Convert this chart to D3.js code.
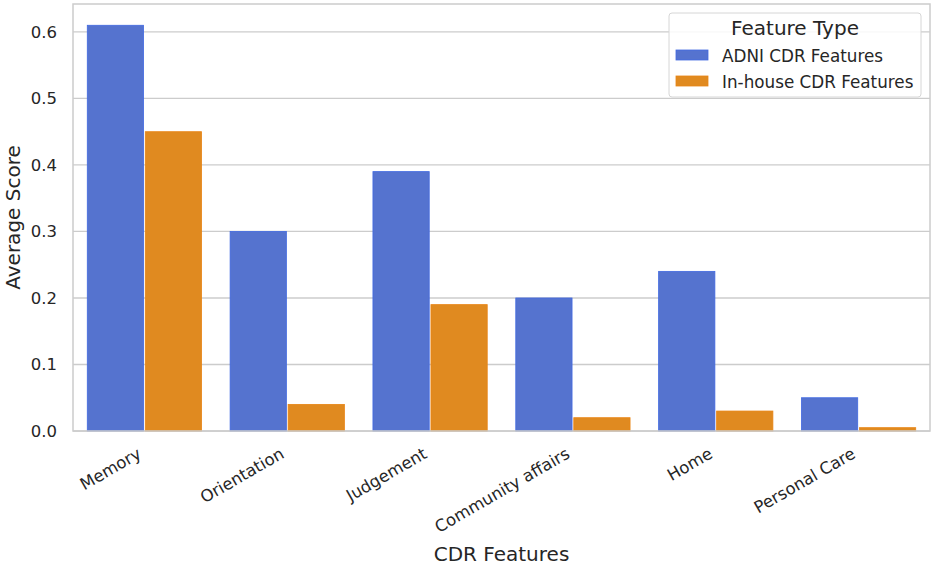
<!DOCTYPE html>
<html>
<head>
<meta charset="utf-8">
<script src="https://cdn.jsdelivr.net/npm/d3@7"></script>
<style>
  body { margin: 0; background: #fff; }
  text { font-family: "DejaVu Sans", sans-serif; fill: #262626; }
</style>
</head>
<body>
<div id="chart"></div>
<script>
// data
const categories = ["Memory", "Orientation", "Judgement", "Community affairs", "Home", "Personal Care"];
const series_names = ["ADNI CDR Features", "In-house CDR Features"];
const adni_values = [0.61, 0.30, 0.39, 0.20, 0.24, 0.05];
const inhouse_values = [0.45, 0.04, 0.19, 0.02, 0.03, 0.005];
const y_ticks = [0.0, 0.1, 0.2, 0.3, 0.4, 0.5, 0.6];

const fills = ["#5573cf", "#e08a20"];
const edges = ["#4169e1", "#e88414"];

const width = 935, height = 566;
const margin = { top: 4, right: 5, bottom: 135, left: 73 };
const plot_w = width - margin.left - margin.right,
      plot_h = height - margin.top - margin.bottom;

const svg = d3.select("#chart").append("svg")
    .attr("width", width)
    .attr("height", height);

const g = svg.append("g")
    .attr("transform", "translate(" + margin.left + "," + margin.top + ")");

const x = d3.scaleBand()
    .domain(categories)
    .range([0, plot_w])
    .paddingInner(0.2)
    .paddingOuter(0.1);

const x_inner = d3.scaleBand()
    .domain(series_names)
    .range([0, x.bandwidth()])
    .paddingInner(0.03);

const y = d3.scaleLinear()
    .domain([0, 0.642])
    .range([plot_h, 0]);

// grid lines
g.append("g")
    .selectAll("line")
    .data(y_ticks)
    .join("line")
    .attr("x1", 0)
    .attr("x2", plot_w)
    .attr("y1", d => y(d))
    .attr("y2", d => y(d))
    .attr("stroke", "#cccccc")
    .attr("stroke-width", 1.3);

// bars
const rows = categories.map((c, i) => ({ cat: c, vals: [adni_values[i], inhouse_values[i]] }));

g.append("g")
    .selectAll("g")
    .data(rows)
    .join("g")
    .attr("transform", d => "translate(" + x(d.cat) + ",0)")
    .selectAll("rect")
    .data(d => d.vals.map((v, k) => ({ name: series_names[k], k: k, v: v })))
    .join("rect")
    .attr("x", d => x_inner(d.name))
    .attr("width", x_inner.bandwidth())
    .attr("y", d => y(d.v))
    .attr("height", d => y(0) - y(d.v))
    .attr("fill", d => fills[d.k])
    .attr("stroke", d => edges[d.k])
    .attr("stroke-width", 0.8);

// y axis
const y_axis = g.append("g")
    .call(d3.axisLeft(y).tickValues(y_ticks).tickFormat(d3.format(".1f")).tickSize(0).tickPadding(16));
y_axis.select(".domain").remove();
y_axis.selectAll("text")
    .style("font-size", "16.5px")
    .attr("fill", "#262626");

// x axis
const x_axis = g.append("g")
    .attr("transform", "translate(0," + plot_h + ")")
    .call(d3.axisBottom(x).tickSize(0).tickPadding(0));
x_axis.select(".domain").remove();
x_axis.selectAll("text")
    .style("font-size", "16.5px")
    .attr("fill", "#262626")
    .attr("text-anchor", "end")
    .attr("dy", null)
    .attr("y", 0)
    .attr("transform", "translate(-2,26) rotate(-30)");

// spines
g.append("rect")
    .attr("x", 0)
    .attr("y", 0)
    .attr("width", plot_w)
    .attr("height", plot_h)
    .attr("fill", "none")
    .attr("stroke", "#cccccc")
    .attr("stroke-width", 1.5);

// axis titles
svg.append("text")
    .attr("x", margin.left + plot_w / 2)
    .attr("y", 561)
    .attr("text-anchor", "middle")
    .style("font-size", "20px")
    .text("CDR Features");

svg.append("text")
    .attr("transform", "translate(20," + (margin.top + plot_h / 2) + ") rotate(-90)")
    .attr("text-anchor", "middle")
    .style("font-size", "20px")
    .text("Average Score");

// legend
const legend = svg.append("g").attr("transform", "translate(669,13)");
legend.append("rect")
    .attr("width", 252)
    .attr("height", 84)
    .attr("rx", 3)
    .attr("fill", "#fff")
    .attr("fill-opacity", 0.85)
    .attr("stroke", "#d6d6d6")
    .attr("stroke-width", 1);
legend.append("text")
    .attr("x", 126)
    .attr("y", 22)
    .attr("text-anchor", "middle")
    .style("font-size", "20px")
    .text("Feature Type");
series_names.forEach((name, k) => {
    const row = legend.append("g").attr("transform", "translate(7," + (37 + k * 26) + ")");
    row.append("rect")
        .attr("width", 32)
        .attr("height", 10)
        .attr("fill", fills[k])
        .attr("stroke", edges[k])
        .attr("stroke-width", 0.8);
    row.append("text")
        .attr("x", 46)
        .attr("y", 12)
        .style("font-size", "16.8px")
        .text(name);
});
</script>
</body>
</html>
